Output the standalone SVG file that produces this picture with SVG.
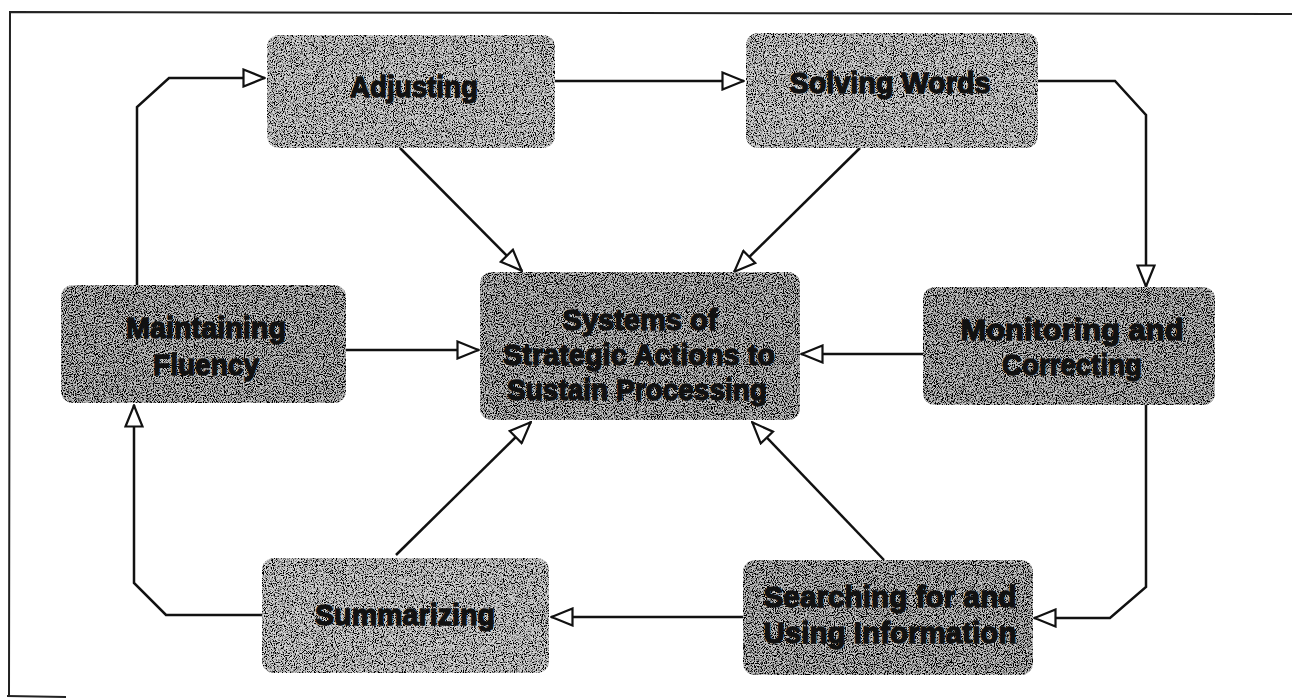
<svg xmlns="http://www.w3.org/2000/svg" width="1292" height="700" viewBox="0 0 1292 700">
<style>
.box{stroke:none}
.light{fill:#d4d4d4;filter:url(#grainL)}
.dark{fill:#c8c8c8;filter:url(#grainD)}
.lbl{font-family:"Liberation Sans","Arial",sans-serif;font-weight:bold;font-size:30px;fill:#111;stroke:#111;stroke-width:1.3;stroke-linejoin:round;text-anchor:middle}
.con{fill:none;stroke:#111;stroke-width:2.5;stroke-linejoin:miter;marker-end:url(#ah)}
.frame{fill:none;stroke:#222;stroke-width:2}
</style>
<defs>
<filter id="grainL" x="0" y="0" width="100%" height="100%">
<feTurbulence type="fractalNoise" baseFrequency="0.9" numOctaves="2" seed="4" result="n"/>
<feColorMatrix in="n" type="matrix" values="0 0 0 0 0  0 0 0 0 0  0 0 0 0 0  5 0 0 0 -2.15" result="dots"/>
<feComposite in="dots" in2="SourceGraphic" operator="in" result="d2"/>
<feMerge><feMergeNode in="SourceGraphic"/><feMergeNode in="d2"/></feMerge>
</filter>
<filter id="grainD" x="0" y="0" width="100%" height="100%">
<feTurbulence type="fractalNoise" baseFrequency="0.9" numOctaves="2" seed="9" result="n"/>
<feColorMatrix in="n" type="matrix" values="0 0 0 0 0  0 0 0 0 0  0 0 0 0 0  5 0 0 0 -2.0" result="dots"/>
<feComposite in="dots" in2="SourceGraphic" operator="in" result="d2"/>
<feMerge><feMergeNode in="SourceGraphic"/><feMergeNode in="d2"/></feMerge>
</filter>
<marker id="ah" viewBox="0 0 24 20" refX="23" refY="10" markerWidth="24" markerHeight="20" orient="auto" markerUnits="userSpaceOnUse">
<path d="M1.5,1.5 L22.5,10 L1.5,18.5 Z" fill="#fff" stroke="#111" stroke-width="2.2" stroke-linejoin="miter"/>
</marker>
</defs>
<rect width="1292" height="700" fill="#fff"/>
<g id="frame">
<path class="frame" d="M1292,14 L10,12 L9,696"/>
<path class="frame" d="M7,696 L66,697"/>
</g>
<g id="connectors">
<path class="con" d="M137,285 L137,107 L169,78 L265,78"/>
<path class="con" d="M555,81 L744,81"/>
<path class="con" d="M1038,81 L1115,81 L1146,115 L1146,287"/>
<path class="con" d="M1146,405 L1146,587 L1110,618 L1034,618"/>
<path class="con" d="M743,617 L551,617"/>
<path class="con" d="M262,615 L166,615 L134,583 L134,405"/>
<path class="con" d="M400,148 L522,271"/>
<path class="con" d="M860,148 L734,272"/>
<path class="con" d="M346,350 L479,350"/>
<path class="con" d="M923,354 L801,354"/>
<path class="con" d="M884,560 L752,422"/>
<path class="con" d="M396,555 L531,422"/>
</g>
<g id="adjusting">
<rect class="box light" x="267" y="35" width="288" height="113" rx="12"/>
<text class="lbl" x="414" y="97" textLength="128" lengthAdjust="spacingAndGlyphs">Adjusting</text>
</g>
<g id="solving-words">
<rect class="box light" x="746" y="33" width="292" height="115" rx="12"/>
<text class="lbl" x="890" y="93" textLength="201" lengthAdjust="spacingAndGlyphs">Solving Words</text>
</g>
<g id="maintaining-fluency">
<rect class="box dark" x="61" y="285" width="285" height="118" rx="12"/>
<text class="lbl" x="206" y="338" textLength="160" lengthAdjust="spacingAndGlyphs">Maintaining</text>
<text class="lbl" x="206" y="375" textLength="106" lengthAdjust="spacingAndGlyphs">Fluency</text>
</g>
<g id="center">
<rect class="box dark" x="480" y="272" width="320" height="148" rx="12"/>
<text class="lbl" x="640" y="330" textLength="155" lengthAdjust="spacingAndGlyphs">Systems of</text>
<text class="lbl" x="639" y="365" textLength="272" lengthAdjust="spacingAndGlyphs">Strategic Actions to</text>
<text class="lbl" x="637" y="400" textLength="260" lengthAdjust="spacingAndGlyphs">Sustain Processing</text>
</g>
<g id="monitoring-correcting">
<rect class="box dark" x="923" y="287" width="292" height="118" rx="12"/>
<text class="lbl" x="1072" y="340" textLength="223" lengthAdjust="spacingAndGlyphs">Monitoring and</text>
<text class="lbl" x="1072" y="375" textLength="140" lengthAdjust="spacingAndGlyphs">Correcting</text>
</g>
<g id="searching-using">
<rect class="box dark" x="743" y="560" width="290" height="115" rx="12"/>
<text class="lbl" x="890" y="607" textLength="253" lengthAdjust="spacingAndGlyphs">Searching for and</text>
<text class="lbl" x="890" y="643" textLength="253" lengthAdjust="spacingAndGlyphs">Using Information</text>
</g>
<g id="summarizing">
<rect class="box light" x="262" y="558" width="287" height="115" rx="12"/>
<text class="lbl" x="405" y="625" textLength="180" lengthAdjust="spacingAndGlyphs">Summarizing</text>
</g>
</svg>
